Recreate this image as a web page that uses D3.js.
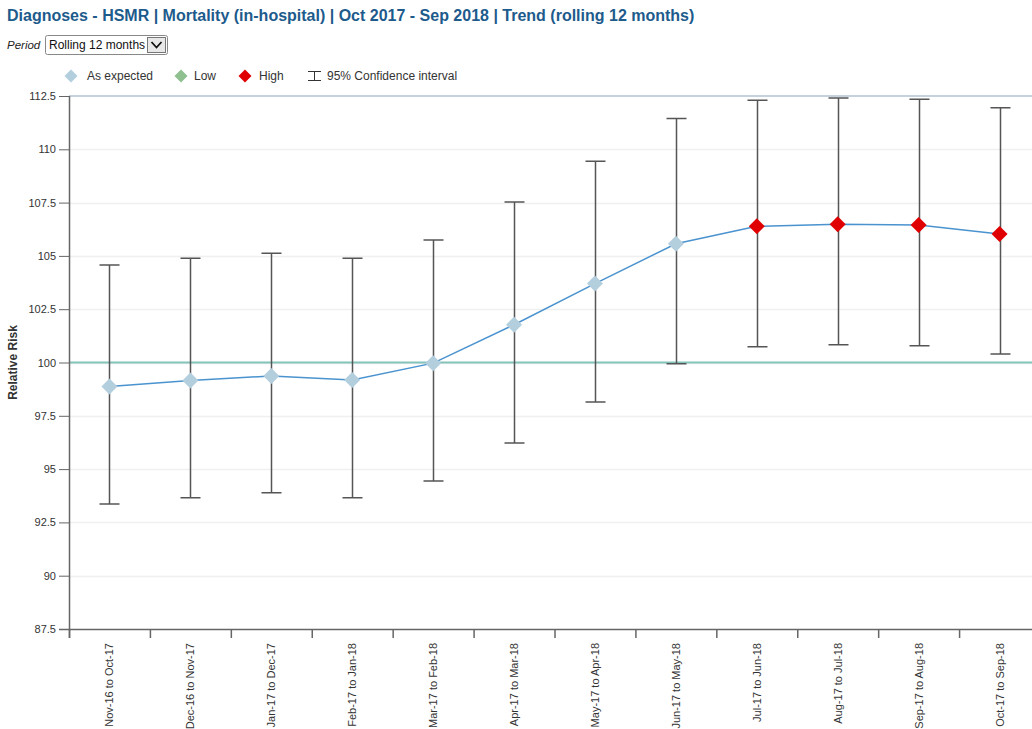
<!DOCTYPE html>
<html>
<head>
<meta charset="utf-8">
<script src="https://cdn.jsdelivr.net/npm/d3@7/dist/d3.min.js"></script>
<style>
  html, body { margin: 0; padding: 0; background: #fff; }
  svg { display: block; font-family: "Liberation Sans", Arial, sans-serif; }
</style>
</head>
<body>
<svg id="chart" width="1032" height="729"></svg>
<script>
// Rolling 12-month periods
const periods = [
  "Nov-16 to Oct-17", "Dec-16 to Nov-17", "Jan-17 to Dec-17", "Feb-17 to Jan-18",
  "Mar-17 to Feb-18", "Apr-17 to Mar-18", "May-17 to Apr-18", "Jun-17 to May-18",
  "Jul-17 to Jun-18", "Aug-17 to Jul-18", "Sep-17 to Aug-18", "Oct-17 to Sep-18"
];
// Relative risk and 95% confidence limits
const relativeRisk = [98.87, 99.15, 99.37, 99.18, 99.97, 101.77, 103.70, 105.57, 106.39, 106.48, 106.45, 106.03];
const ciLower      = [93.36, 93.66, 93.89, 93.66, 94.44, 96.22, 98.15, 99.94, 100.74, 100.83, 100.78, 100.40];
const ciUpper      = [104.57, 104.89, 105.12, 104.89, 105.75, 107.53, 109.44, 111.45, 112.30, 112.41, 112.35, 111.95];
// Banding against the expected value
const status = ["expected", "expected", "expected", "expected", "expected", "expected",
                "expected", "expected", "high", "high", "high", "high"];
const yTicks = [87.5, 90, 92.5, 95, 97.5, 100, 102.5, 105, 107.5, 110, 112.5];
const legendItems = [
  { key: "expected", label: "As expected" },
  { key: "low", label: "Low" },
  { key: "high", label: "High" }
];

const colors = { expected: "#b3cedd", low: "#8fc08f", high: "#e00000" };

const svg = d3.select("#chart");
const plot = { left: 69, right: 1040, top: 96, bottom: 629 };

const x = d3.scaleBand().domain(periods).range([plot.left, plot.right]).padding(0);
const y = d3.scaleLinear().domain([87.5, 112.5]).range([plot.bottom, plot.top]);

// Title
svg.append("text")
  .attr("x", 7).attr("y", 21)
  .attr("font-size", 16).attr("font-weight", "bold")
  .attr("fill", "#1d5b8c")
  .text("Diagnoses - HSMR | Mortality (in-hospital) | Oct 2017 - Sep 2018 | Trend (rolling 12 months)");

// Period selector
svg.append("text")
  .attr("x", 7).attr("y", 49)
  .attr("font-size", 11.5).attr("font-style", "italic").attr("fill", "#222")
  .text("Period");
const sel = svg.append("g");
sel.append("rect").attr("x", 45.5).attr("y", 35.5).attr("width", 122).attr("height", 19)
  .attr("rx", 2).attr("fill", "#fff").attr("stroke", "#888");
sel.append("text").attr("x", 49).attr("y", 49).attr("font-size", 12).attr("fill", "#111")
  .text("Rolling 12 months");
sel.append("rect").attr("x", 147.5).attr("y", 37.5).attr("width", 18).attr("height", 15)
  .attr("fill", "#e8e8e8").attr("stroke", "#777");
sel.append("path").attr("d", "M151.5,42 L156.5,47.5 L161.5,42")
  .attr("fill", "none").attr("stroke", "#111").attr("stroke-width", 1.8);

// Legend
const diamond = (cx, cy, r) => `M${cx},${cy - r}L${cx + r},${cy}L${cx},${cy + r}L${cx - r},${cy}Z`;
const legendX = [71, 181, 245];
const legendTextX = [87, 194, 259];
legendItems.forEach((d, i) => {
  svg.append("path").attr("d", diamond(legendX[i], 76, 6.5)).attr("fill", colors[d.key]);
  svg.append("text").attr("x", legendTextX[i]).attr("y", 80)
    .attr("font-size", 12).attr("fill", "#333").text(d.label);
});
svg.append("path").attr("d", "M308,71.5H321M314.5,71.5V80.5M308,80.5H321")
  .attr("stroke", "#333").attr("stroke-width", 1).attr("fill", "none");
svg.append("text").attr("x", 327).attr("y", 80).attr("font-size", 12).attr("fill", "#333")
  .text("95% Confidence interval");

// Grid lines
svg.append("g").selectAll("line").data(yTicks.filter(t => t > 87.5 && t < 112.5)).join("line")
  .attr("x1", plot.left).attr("x2", 1032)
  .attr("y1", d => Math.round(y(d)) + 0.5).attr("y2", d => Math.round(y(d)) + 0.5)
  .attr("stroke", "#f0f0f0").attr("stroke-width", 1.5);

// Top border of plot area
svg.append("line").attr("x1", plot.left).attr("x2", 1032)
  .attr("y1", y(112.5)).attr("y2", y(112.5))
  .attr("stroke", "#c4d2df").attr("stroke-width", 2);

// Expected value line
svg.append("line").attr("x1", plot.left).attr("x2", 1032)
  .attr("y1", y(100)).attr("y2", y(100))
  .attr("stroke", "#84c3bc").attr("stroke-width", 2);

// Y axis
const yAxis = svg.append("g").attr("transform", `translate(${plot.left},0)`)
  .call(d3.axisLeft(y).tickValues(yTicks).tickFormat(d3.format("~g")).tickSize(10).tickPadding(3));
yAxis.select(".domain").remove();
yAxis.selectAll(".tick line").attr("stroke", "#666");
yAxis.selectAll(".tick text").attr("font-size", 11).attr("fill", "#333")
  .attr("font-family", "Liberation Sans, Arial, sans-serif");
svg.append("line").attr("x1", plot.left + 0.5).attr("x2", plot.left + 0.5)
  .attr("y1", plot.top).attr("y2", plot.bottom + 9)
  .attr("stroke", "#666").attr("stroke-width", 1.5);

// X axis
const xAxis = svg.append("g").attr("transform", `translate(0,${plot.bottom})`)
  .call(d3.axisBottom(x).tickSize(0).tickPadding(0));
xAxis.select(".domain").remove();
xAxis.selectAll(".tick text")
  .attr("font-size", 11).attr("fill", "#333")
  .attr("font-family", "Liberation Sans, Arial, sans-serif")
  .attr("text-anchor", "end")
  .attr("dy", null)
  .attr("transform", "translate(4,14) rotate(-90)");
svg.append("line").attr("x1", plot.left - 10).attr("x2", 1032)
  .attr("y1", plot.bottom + 0.5).attr("y2", plot.bottom + 0.5)
  .attr("stroke", "#666").attr("stroke-width", 1.5);
svg.append("g").selectAll("line").data(periods).join("line")
  .attr("x1", d => x(d) + 0.5).attr("x2", d => x(d) + 0.5)
  .attr("y1", plot.bottom).attr("y2", plot.bottom + 9)
  .attr("stroke", "#666").attr("stroke-width", 1.5);

// Axis title
svg.append("text")
  .attr("transform", `translate(17,${y(100)}) rotate(-90)`)
  .attr("text-anchor", "middle")
  .attr("font-size", 12).attr("font-weight", "bold").attr("fill", "#333")
  .text("Relative Risk");

const cx = i => x(periods[i]) + x.bandwidth() / 2;

// Trend line
const line = d3.line().x((d, i) => cx(i)).y(d => y(d));
svg.append("path").datum(relativeRisk).attr("d", line)
  .attr("fill", "none").attr("stroke", "#4a93cf").attr("stroke-width", 1.5);

// Confidence intervals
const ci = svg.append("g").attr("stroke", "#555").attr("stroke-width", 1.5).attr("fill", "none");
periods.forEach((p, i) => {
  const xc = Math.round(cx(i)) + 0.5;
  ci.append("path").attr("d",
    `M${xc},${y(ciUpper[i])}V${y(ciLower[i])}` +
    `M${xc - 10},${y(ciUpper[i])}H${xc + 10}` +
    `M${xc - 10},${y(ciLower[i])}H${xc + 10}`);
});

// Point markers
svg.append("g").selectAll("path").data(relativeRisk).join("path")
  .attr("d", (d, i) => diamond(cx(i), y(d), 8))
  .attr("fill", (d, i) => colors[status[i]]);
</script>
</body>
</html>
